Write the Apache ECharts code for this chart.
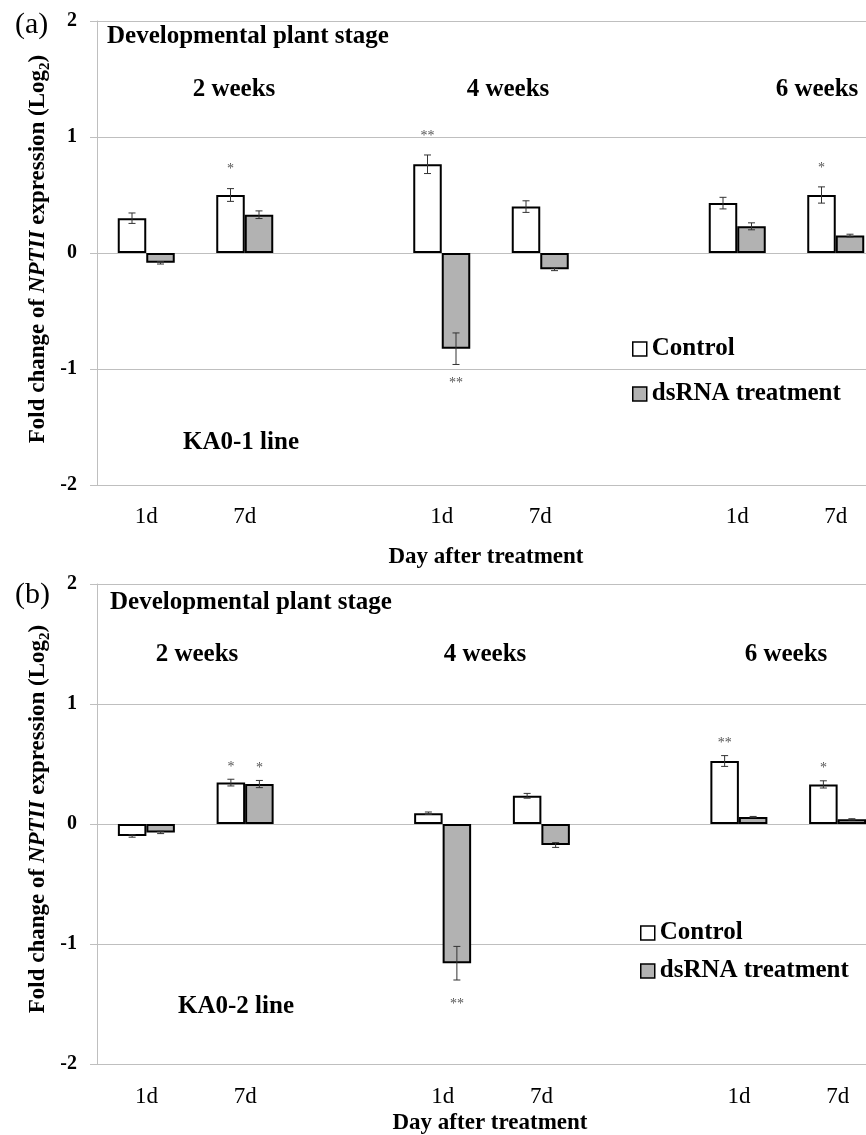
<!DOCTYPE html>
<html>
<head>
<meta charset="utf-8">
<script src="https://cdn.jsdelivr.net/npm/echarts@6/dist/echarts.min.js"></script>
<style>
html,body{margin:0;padding:0;background:#fff;overflow:hidden;}
#chart{width:866px;height:1135px;}
</style>
</head>
<body>
<div id="chart"></div>
<script>
// ---- Data ----
const categories = ['1d', '7d', '', '1d', '7d', '', '1d', '7d'];
const stageLabels = ['2 weeks', '4 weeks', '6 weeks'];
const yTicks = [-2, -1, 0, 1, 2];

// (a) KA0-1 line
const controlA    = [0.30, 0.50, null, 0.765, 0.40, null, 0.43, 0.50];
const controlErrA = [0.045, 0.055, null, 0.08, 0.05, null, 0.05, 0.07];
const dsrnaA      = [-0.085, 0.33, null, -0.825, -0.14, null, 0.23, 0.15];
const dsrnaErrA   = [0.01, 0.033, null, 0.136, 0.012, null, 0.03, 0.012];
const sigControlA = ['', '*', '', '**', '', '', '', '*'];
const sigDsrnaA   = ['', '', '', '**', '', '', '', ''];

// (b) KA0-2 line
const controlB    = [-0.10, 0.345, null, 0.09, 0.235, null, 0.525, 0.33];
const controlErrB = [0.01, 0.028, null, 0.01, 0.02, null, 0.045, 0.03];
const dsrnaB      = [-0.07, 0.333, null, -1.16, -0.175, null, 0.058, 0.039];
const dsrnaErrB   = [0.01, 0.03, null, 0.14, 0.02, null, 0.005, 0.005];
const sigControlB = ['', '*', '', '', '', '', '**', '*'];
const sigDsrnaB   = ['', '*', '', '**', '', '', '', ''];

// ---- Styles ----
const SERIF = '"Liberation Serif", "Times New Roman", serif';
const BAR_W = 28.5;
const GRID_COLOR = '#bfbfbf';

function errItems(vals, errs, sigs) {
  const out = [];
  vals.forEach((v, i) => {
    if (v === null || v === undefined) return;
    out.push({ value: [i, v, errs[i]], sig: sigs[i] });
  });
  return out;
}

function errSeries(name, vals, errs, sigs, axisIdx, side, gapAbove, gapBelow) {
  const items = errItems(vals, errs, sigs);
  return {
    type: 'custom',
    name: name + ' err',
    xAxisIndex: axisIdx,
    yAxisIndex: axisIdx,
    z: 5,
    silent: true,
    encode: { x: 0, y: 1 },
    data: items.map(d => d.value),
    renderItem: function (params, api) {
      const i = api.value(0), v = api.value(1), e = api.value(2);
      const c = api.coord([i, v]);
      const x = c[0] + side * BAR_W / 2;
      const yHi = api.coord([i, v + e])[1];
      const yLo = api.coord([i, v - e])[1];
      const ls = { stroke: '#333', lineWidth: 1 };
      const children = [
        { type: 'line', shape: { x1: x, y1: yHi, x2: x, y2: yLo }, style: ls },
        { type: 'line', shape: { x1: x - 3.5, y1: yHi, x2: x + 3.5, y2: yHi }, style: ls },
        { type: 'line', shape: { x1: x - 3.5, y1: yLo, x2: x + 3.5, y2: yLo }, style: ls }
      ];
      const sig = items[params.dataIndex].sig;
      if (sig) {
        const ys = v >= 0 ? yHi - gapAbove : yLo + gapBelow;
        children.push({
          type: 'text',
          style: {
            text: sig, x: x, y: ys, align: 'center', verticalAlign: 'middle',
            fill: '#555', font: '14px ' + SERIF
          }
        });
      }
      return { type: 'group', children: children };
    }
  };
}

function barSeries(name, vals, axisIdx, fill) {
  return {
    type: 'bar',
    name: name,
    xAxisIndex: axisIdx,
    yAxisIndex: axisIdx,
    data: vals.map(v => (v === null ? '-' : v)),
    barWidth: BAR_W,
    barGap: '0%',
    itemStyle: { color: fill, borderColor: '#000', borderWidth: 2 },
    z: 3
  };
}

function xAxisCfg(gridIndex, margin) {
  return {
    type: 'category',
    gridIndex: gridIndex,
    data: categories,
    axisLine: { onZero: false, lineStyle: { color: GRID_COLOR, width: 1 } },
    axisTick: { show: false },
    axisLabel: { interval: 0, margin: margin, color: '#000', fontFamily: SERIF, fontSize: 23 },
    splitLine: { show: false }
  };
}

function yAxisCfg(gridIndex) {
  return {
    type: 'value',
    gridIndex: gridIndex,
    min: yTicks[0],
    max: yTicks[yTicks.length - 1],
    interval: 1,
    axisLine: { show: true, lineStyle: { color: GRID_COLOR, width: 1 } },
    axisTick: { show: true, length: 7, lineStyle: { color: GRID_COLOR } },
    axisLabel: { margin: 20, color: '#000', fontFamily: SERIF, fontSize: 20, fontWeight: 'bold' },
    splitLine: { show: true, lineStyle: { color: GRID_COLOR, width: 1 } }
  };
}

function txt(text, x, y, size, weight, align) {
  return {
    type: 'text', x: x, y: y, z: 10,
    style: {
      text: text, align: align || 'center', verticalAlign: 'middle',
      fill: '#000', font: (weight || 'bold') + ' ' + size + 'px ' + SERIF
    }
  };
}

function yTitle(y) {
  return {
    type: 'text', x: 38, y: y, rotation: Math.PI / 2, z: 10,
    style: {
      text: '{a|Fold change of }{i|NPTII}{a| expression (Log}{s|2}{a|)}',
      align: 'center', verticalAlign: 'middle',
      rich: {
        a: { fontFamily: SERIF, fontSize: 23, fontWeight: 'bold', fill: '#000', lineHeight: 29 },
        i: { fontFamily: SERIF, fontSize: 23, fontWeight: 'bold', fontStyle: 'italic', fill: '#000', lineHeight: 29 },
        s: { fontFamily: SERIF, fontSize: 15, fontWeight: 'bold', fill: '#000', lineHeight: 18, verticalAlign: 'bottom' }
      }
    }
  };
}

function legendCfg(left, top, gap) {
  return {
    data: ['Control', 'dsRNA treatment'],
    orient: 'vertical',
    left: left, top: top,
    padding: 0,
    itemGap: gap,
    itemWidth: 14, itemHeight: 14,
    icon: 'rect',
    itemStyle: { borderColor: '#000', borderWidth: 1.5 },
    textStyle: { fontFamily: SERIF, fontSize: 25, fontWeight: 'bold', color: '#000', lineHeight: 28 }
  };
}

const chart = echarts.init(document.getElementById('chart'), null, { renderer: 'canvas' });

const option = {
  animation: false,
  backgroundColor: '#fff',
  grid: [
    { left: 97, top: 21, width: 788, height: 464, outerBoundsMode: 'none', containLabel: false },
    { left: 97, top: 584, width: 790, height: 480, outerBoundsMode: 'none', containLabel: false }
  ],
  xAxis: [xAxisCfg(0, 20), xAxisCfg(1, 21)],
  yAxis: [yAxisCfg(0), yAxisCfg(1)],
  legend: [legendCfg(632, 335, 17), legendCfg(640, 919, 10)],
  series: [
    barSeries('Control', controlA, 0, '#ffffff'),
    barSeries('dsRNA treatment', dsrnaA, 0, '#b2b2b2'),
    barSeries('Control', controlB, 1, '#ffffff'),
    barSeries('dsRNA treatment', dsrnaB, 1, '#b2b2b2'),
    errSeries('Control', controlA, controlErrA, sigControlA, 0, -1, 19, 19),
    errSeries('dsRNA treatment', dsrnaA, dsrnaErrA, sigDsrnaA, 0, 1, 19, 19),
    errSeries('Control', controlB, controlErrB, sigControlB, 1, -1, 12, 24),
    errSeries('dsRNA treatment', dsrnaB, dsrnaErrB, sigDsrnaB, 1, 1, 12, 24)
  ],
  graphic: [
    txt('(a)', 15, 25, 30, 'normal', 'left'),
    txt('Developmental plant stage', 107, 37, 25, 'bold', 'left'),
    txt(stageLabels[0], 234, 90, 25),
    txt(stageLabels[1], 508, 90, 25),
    txt(stageLabels[2], 817, 90, 25),
    txt('KA0-1 line', 241, 443, 25),
    txt('Day after treatment', 486, 557, 23),
    yTitle(249),

    txt('(b)', 15, 595, 30, 'normal', 'left'),
    txt('Developmental plant stage', 110, 603, 25, 'bold', 'left'),
    txt(stageLabels[0], 197, 655, 25),
    txt(stageLabels[1], 485, 655, 25),
    txt(stageLabels[2], 786, 655, 25),
    txt('KA0-2 line', 236, 1007, 25),
    txt('Day after treatment', 490, 1123, 23),
    yTitle(819)
  ]
};

chart.setOption(option);
</script>
</body>
</html>
